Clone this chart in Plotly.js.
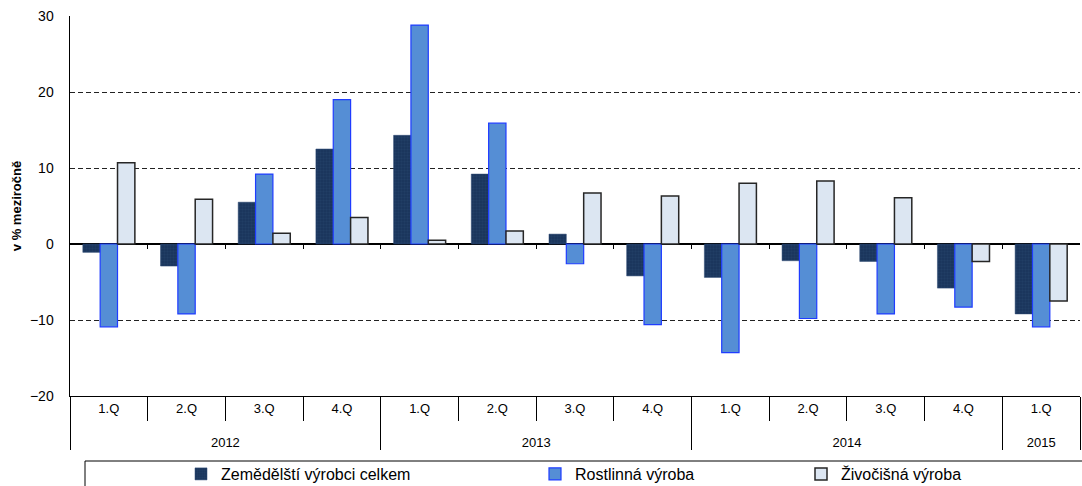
<!DOCTYPE html>
<html>
<head>
<meta charset="utf-8">
<script src="https://cdn.plot.ly/plotly-3.0.1.min.js"></script>
<style>
  html, body { margin: 0; padding: 0; background: #fff; }
  #chart { width: 1082px; height: 486px; }
</style>
</head>
<body>
<div id="chart"></div>
<script>
// ---- data ----
const years    = ["2012","2012","2012","2012","2013","2013","2013","2013","2014","2014","2014","2014","2015"];
const quarters = ["1.Q","2.Q","3.Q","4.Q","1.Q","2.Q","3.Q","4.Q","1.Q","2.Q","3.Q","4.Q","1.Q"];
const seriesNames = ["Zemědělští výrobci celkem", "Rostlinná výroba", "Živočišná výroba"];
const celkem     = [-1.1, -2.9, 5.5, 12.5, 14.3, 9.2, 1.3, -4.2, -4.4, -2.2, -2.3, -5.8, -9.2];
const rostlinna  = [-10.9, -9.2, 9.2, 19.0, 28.8, 15.9, -2.6, -10.6, -14.3, -9.8, -9.2, -8.3, -10.9];
const zivocisna  = [10.7, 5.9, 1.4, 3.5, 0.5, 1.7, 6.7, 6.3, 8.0, 8.3, 6.1, -2.3, -7.5];
const yTitle = "v % meziročně";
const yRange = [-20, 30];

// ---- traces ----
// year labels get a leading line break so they sit lower, as in the original table-style axis
const x = [years.map(y => "<br>" + y), quarters];
const FONT = "Liberation Sans, Arial, sans-serif";

const traces = [
  {
    type: "bar", x: x, y: celkem, name: seriesNames[0], legend: "legend",
    marker: {
      color: "#1b365d",
      line: { color: "#2a4670", width: 0.5 },
      pattern: { shape: "+", size: 3, solidity: 0.12, fgcolor: "#2f4b74", bgcolor: "#1b365d" }
    },
    hoverinfo: "skip"
  },
  {
    type: "bar", x: x, y: rostlinna, name: seriesNames[1], legend: "legend2",
    marker: { color: "#558ed5", line: { color: "#1f3cff", width: 1.2 } },
    hoverinfo: "skip"
  },
  {
    type: "bar", x: x, y: zivocisna, name: seriesNames[2], legend: "legend3",
    marker: { color: "#dce6f2", line: { color: "#262626", width: 1.5 } },
    hoverinfo: "skip"
  }
];

// geometry helpers (layout only)
const H = 486, W = 1082;
const mL = 70, mR = 2, mT = 16, mB = 90;
const plotH = H - mT - mB, plotW = W - mL - mR;
const py = (pix) => (H - mB - pix) / plotH;     // pixel y -> paper y
const px = (pix) => (pix - mL) / plotW;         // pixel x -> paper x
const zeroPos = (0 - yRange[0]) / (yRange[1] - yRange[0]);
const nCat = quarters.length;
const boundaryTicks = [];
for (let i = 0; i < nCat - 1; i++) boundaryTicks.push(i + 0.5);

const legFont = { family: FONT, size: 16, color: "#000" };
const legCommon = {
  orientation: "h", yanchor: "middle", xanchor: "left",
  xref: "container", yref: "container",
  bgcolor: "rgba(0,0,0,0)", borderwidth: 0, font: legFont,
  itemwidth: 30, tracegroupgap: 0
};
const legY = (H - 474) / H;

const layout = {
  width: W, height: H,
  margin: { l: mL, r: mR, t: mT, b: mB, pad: 0, autoexpand: false },
  paper_bgcolor: "#fff", plot_bgcolor: "#fff",
  font: { family: FONT, color: "#000" },
  barmode: "group",
  bargap: 0.33,
  bargroupgap: 0,
  showlegend: true,
  xaxis: {
    type: "multicategory",
    showline: true, linecolor: "#000", linewidth: 1,
    showgrid: false, zeroline: false,
    ticks: "outside", tickson: "boundaries", ticklen: 24, tickcolor: "#000", tickwidth: 1,
    showdividers: true, dividercolor: "#000", dividerwidth: 1,
    tickfont: { family: FONT, size: 13, color: "#000" },
    automargin: false
  },
  xaxis2: {
    overlaying: "x", anchor: "free", position: zeroPos,
    range: [-0.5, nCat - 0.5],
    tickmode: "array", tickvals: boundaryTicks,
    ticks: "outside", ticklen: 4, tickcolor: "#000", tickwidth: 1,
    showticklabels: false, showgrid: false, zeroline: false, showline: false,
    fixedrange: true
  },
  yaxis: {
    range: yRange,
    tickvals: [-20, -10, 0, 10, 20, 30],
    showline: true, linecolor: "#000", linewidth: 1.5,
    showgrid: true, gridcolor: "#222", gridwidth: 1, griddash: "5px,3px",
    zeroline: true, zerolinecolor: "#000", zerolinewidth: 2,
    ticks: "", ticklabelstandoff: 12,
    tickfont: { family: FONT, size: 14, color: "#000" },
    title: { text: yTitle, font: { family: FONT, size: 13, color: "#000", weight: "bold" }, standoff: 5 },
    automargin: false
  },
  shapes: [
    {
      type: "rect", xref: "paper", yref: "paper",
      x0: px(85), x1: px(1095), y0: py(461), y1: py(495),
      line: { color: "#000", width: 1 }, fillcolor: "rgba(0,0,0,0)", layer: "above"
    }
  ],
  legend:  Object.assign({}, legCommon, { x: 181 / W, y: legY }),
  legend2: Object.assign({}, legCommon, { x: 535 / W, y: legY }),
  legend3: Object.assign({}, legCommon, { x: 801 / W, y: legY })
};

// keep an (invisible) trace on xaxis2 so the overlay axis is drawn
traces.push({
  type: "scatter", x: [], y: [], xaxis: "x2", yaxis: "y",
  showlegend: false, hoverinfo: "skip"
});

Plotly.newPlot("chart", traces, layout, { staticPlot: true, displayModeBar: false });
</script>
</body>
</html>
